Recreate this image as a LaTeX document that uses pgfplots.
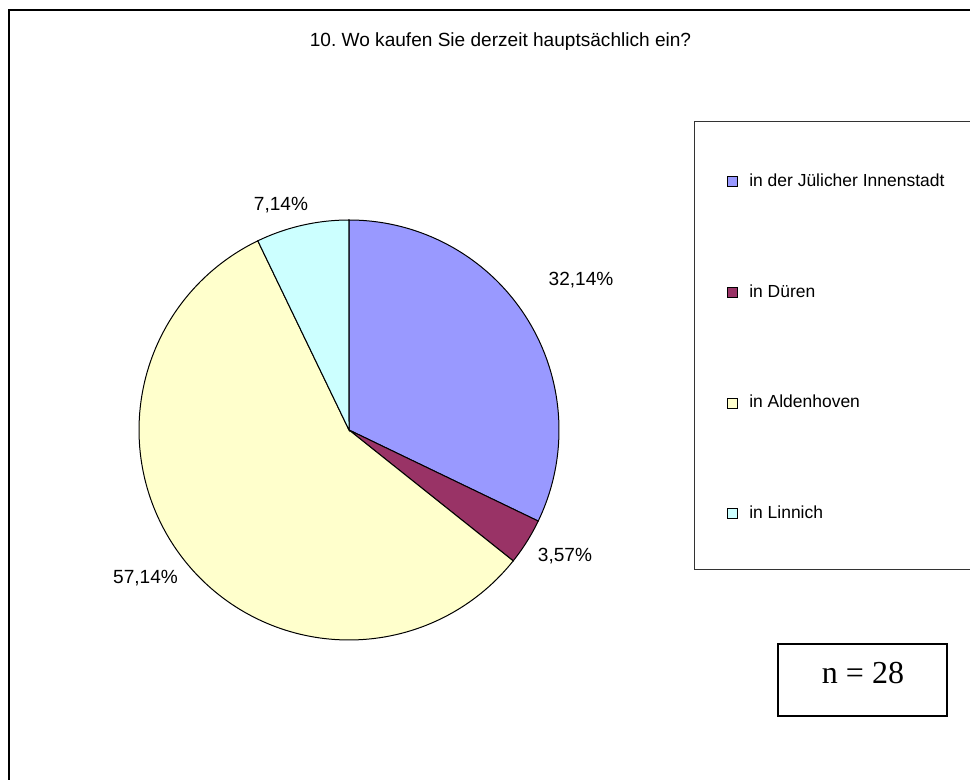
\documentclass[border=0pt]{standalone}
\usepackage{pgfplots}
\pgfplotsset{compat=1.18}
\usepackage{fontspec}
\setmainfont{Liberation Sans}
\newfontfamily\timesfont{Liberation Serif}
\frenchspacing
\definecolor{c1}{HTML}{9999FF}
\definecolor{c2}{HTML}{993366}
\definecolor{c3}{HTML}{FFFFCC}
\definecolor{c4}{HTML}{CCFFFF}
\begin{document}
\begin{tikzpicture}
\begin{axis}[
  scale only axis, width=727.5pt, height=585pt,
  xmin=0, xmax=970, ymin=0, ymax=780,
  hide axis, clip=false,
  legend image code/.code={\draw[#1] (0pt,-3.75pt) rectangle (7.5pt,3.75pt);},
  legend style={draw=none, fill=none, at={(axis cs:727,607)}, anchor=north west,
    inner sep=0pt, row sep=70pt,
    nodes={inner sep=0pt, text height=10pt, text depth=3pt},
    font=\fontsize{13.1}{15}\selectfont,
    /tikz/every odd column/.append style={column sep=8.25pt}},
  legend cell align=left,
]
% outer frame and boxes
\draw[line width=1.1pt] (axis cs:9,-5) -- (axis cs:9,770) -- (axis cs:975,770);
\draw[line width=0.75pt, black!80] (axis cs:975,210) -- (axis cs:694,210) -- (axis cs:694,658) -- (axis cs:975,658);
\draw[line width=1.1pt] (axis cs:778,64) rectangle (axis cs:947,136);
% pie: 32.14, 3.57, 57.14, 7.14 percent, clockwise from 12 o'clock
\addplot[fill=c1, draw=black, line width=0.75pt, domain={90-3.6*32.14}:90, samples=90, variable=\t]
  ({349+210*cos(\t)},{350+210*sin(\t)}) -- (axis cs:349,350) -- cycle;
\addlegendentry{in der Jülicher Innenstadt}
\addplot[fill=c2, draw=black, line width=0.75pt, domain={90-3.6*(32.14+3.57)}:{90-3.6*32.14}, samples=20, variable=\t]
  ({349+210*cos(\t)},{350+210*sin(\t)}) -- (axis cs:349,350) -- cycle;
\addlegendentry{in Düren}
\addplot[fill=c3, draw=black, line width=0.75pt, domain={90-3.6*(32.14+3.57+57.14)}:{90-3.6*(32.14+3.57)}, samples=150, variable=\t]
  ({349+210*cos(\t)},{350+210*sin(\t)}) -- (axis cs:349,350) -- cycle;
\addlegendentry{in Aldenhoven}
\addplot[fill=c4, draw=black, line width=0.75pt, domain={90-3.6*(32.14+3.57+57.14+7.14)}:{90-3.6*(32.14+3.57+57.14)}, samples=30, variable=\t]
  ({349+210*cos(\t)},{350+210*sin(\t)}) -- (axis cs:349,350) -- cycle;
\addlegendentry{in Linnich}
% labels
\node[font=\fontsize{14.3}{16}\selectfont] at (axis cs:500.5,738) {10. Wo kaufen Sie derzeit hauptsächlich ein?};
\node[font=\fontsize{14.3}{16}\selectfont] at (axis cs:581,500) {32,14\%};
\node[font=\fontsize{14.3}{16}\selectfont] at (axis cs:565,224) {3,57\%};
\node[font=\fontsize{14.3}{16}\selectfont] at (axis cs:145.5,202) {57,14\%};
\node[font=\fontsize{14.3}{16}\selectfont] at (axis cs:281,575) {7,14\%};
\node[font=\timesfont\fontsize{24}{28}\selectfont] at (axis cs:863,107) {n = 28};
\end{axis}
\pgfresetboundingbox
\useasboundingbox (current axis.south west) rectangle (current axis.north east);
\end{tikzpicture}
\end{document}
